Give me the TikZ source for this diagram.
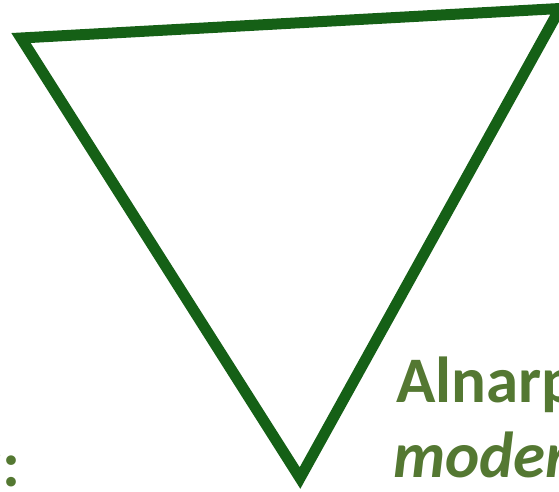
\documentclass[tikz,border=0pt]{standalone}
\usepackage{fontspec}
\setmainfont{Carlito}
\definecolor{tri}{RGB}{21,96,22}
\definecolor{txt}{RGB}{84,120,50}
\begin{document}
\begin{tikzpicture}[x=1pt,y=-1pt,
  lbl/.style={inner sep=0pt,outer sep=0pt,text=txt,font=\fontsize{65}{75}\selectfont\bfseries}]
\useasboundingbox (0,0) rectangle (559,492);
\coordinate (tl) at (21,38);
\coordinate (tr) at (560,8.5);
\coordinate (bt) at (300,478);
\draw[tri,line width=11pt,line join=miter] (tl) -- (tr) -- (bt) -- cycle;
\node[lbl,anchor=base west] (alnarp) at (396,402) {Alnarp};
\node[lbl,anchor=base west,font=\fontsize{65}{75}\selectfont\bfseries\itshape] (moder) at (393,477) {moder};
\node[lbl,anchor=base east] (colon) at (20,486) {r:};
\end{tikzpicture}
\end{document}
